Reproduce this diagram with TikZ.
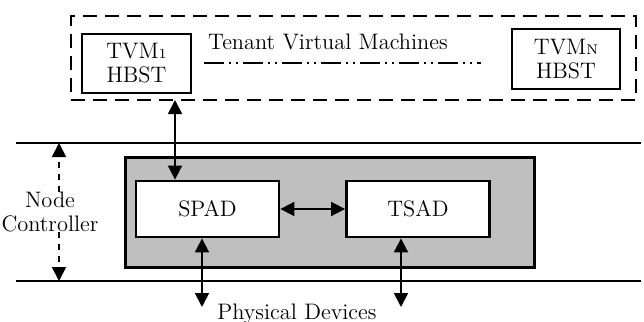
\documentclass[tikz,border=0pt]{standalone}
\usetikzlibrary{arrows.meta,positioning}

\begin{document}
\begin{tikzpicture}[x=0.5pt,y=-0.5pt,>={Triangle[length=7pt,width=7pt]},
  font=\fontsize{11.2}{12}\selectfont,
  vmbox/.style={draw,line width=0.9pt,align=center,inner sep=0pt},
  unitbox/.style={draw,line width=1.4pt,fill=white,minimum width=71.5pt,minimum height=28pt},
  link/.style={<->,line width=0.9pt},
  wall/.style={line width=0.9pt}]
\useasboundingbox (0,0) rectangle (644,322);
% tenant side
\node[draw,dashed,dash pattern=on 7pt off 4pt,line width=0.9pt,minimum width=282.5pt,minimum height=42pt] (tenants) at (353.5,58) {};
\node[vmbox,minimum width=54.5pt,minimum height=29.5pt] (tvm1) at (136.5,63.5) {TVM{\fontsize{7}{8}\selectfont 1}\\HBST};
\node[vmbox,minimum width=54pt,minimum height=30pt] (tvmn) at (566,59) {TVM{\fontsize{7}{8}\selectfont N}\\HBST};
\node (tvmlabel) at (328,42) {Tenant Virtual Machines};
\coordinate (dotsL) at (204,63);
\coordinate (dotsR) at (481,63);
\draw[line width=0.8pt,dash pattern=on 10pt off 2.5pt on 1pt off 2.5pt on 1pt off 2.5pt] (dotsL) -- (dotsR);
% node controller
\coordinate (topL) at (16,143);
\coordinate (topR) at (641,143);
\coordinate (botL) at (16,281);
\coordinate (botR) at (641,281);
\draw[wall] (topL) -- (topR);
\draw[wall] (botL) -- (botR);
\node[draw,line width=1.5pt,fill=gray!50,minimum width=204.5pt,minimum height=55pt] (nc) at (329.5,212) {};
\node[unitbox] (spad) at (207.5,209) {SPAD};
\node[unitbox] (tsad) at (418,209) {TSAD};
\node[align=center,inner sep=0pt] (ctl) at (50,212) {Node\\Controller};
\draw[->,dashed,line width=0.9pt] (ctl.north -| 59,0) -- (topL -| 59,0);
\draw[->,dashed,line width=0.9pt] (ctl.south -| 59,0) -- (botL -| 59,0);
% connectors
\coordinate (tvmport) at (175,100);
\draw[link] (tvmport) -- (tvmport |- spad.north);
\draw[link] (spad) -- (tsad);
\coordinate (spaddev) at (202,307);
\coordinate (tsaddev) at (401,307);
\draw[link] (spaddev |- spad.south) -- (spaddev);
\draw[link] (tsaddev |- tsad.south) -- (tsaddev);
\node (devices) at (297,314) {Physical Devices};
\end{tikzpicture}
\end{document}
